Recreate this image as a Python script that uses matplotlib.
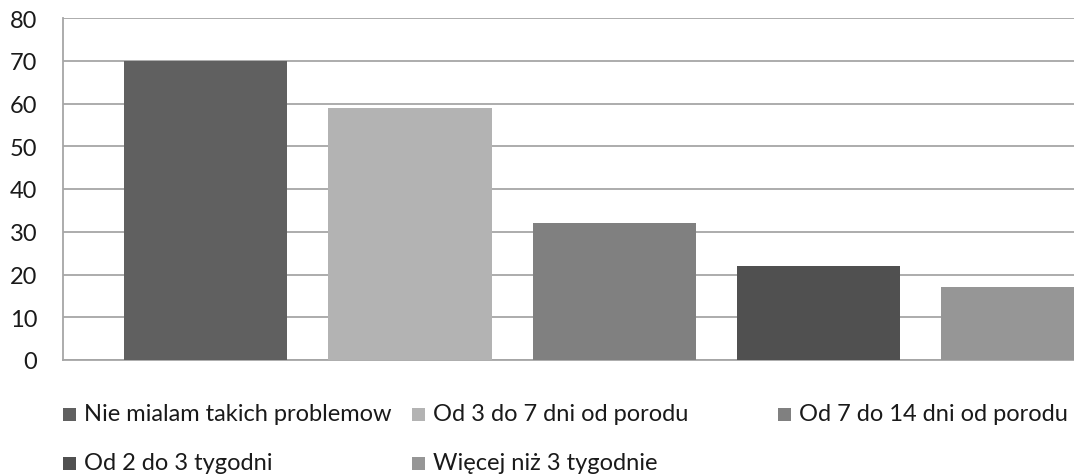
import matplotlib
matplotlib.use("Agg")
import matplotlib.pyplot as plt
from matplotlib.patches import Rectangle

categories = [
    "Nie mialam takich problemow",
    "Od 3 do 7 dni od porodu",
    "Od 7 do 14 dni od porodu",
    "Od 2 do 3 tygodni",
    "Więcej niż 3 tygodnie",
]
values = [70, 59, 32, 22, 17]
colors = ["#606060", "#b3b3b3", "#808080", "#505050", "#969696"]
y_ticks = [0, 10, 20, 30, 40, 50, 60, 70, 80]

W, H = 1074, 477
plt.rcParams["font.family"] = ["Lato", "DejaVu Sans"]
FS = 17

fig = plt.figure(figsize=(W / 100, H / 100), dpi=100)
ax = fig.add_axes([63 / W, (H - 361) / H, 1 - 63 / W, (361 - 19) / H])

x = list(range(len(values)))
ax.bar(x, values, width=0.8, color=colors, zorder=3)

ax.set_ylim(0, 80)
ax.set_xlim(-0.697, 4.249)
ax.set_yticks(y_ticks)
ax.set_xticks([])
ax.yaxis.grid(True, color="#a6a6a6", linewidth=1.3, zorder=0)
ax.set_axisbelow(True)
ax.tick_params(axis="y", length=0, pad=18.5, labelsize=FS, labelcolor="#1a1a1a")
for s in ["top", "right"]:
    ax.spines[s].set_visible(False)
for s in ["left", "bottom"]:
    ax.spines[s].set_color("#a6a6a6")
    ax.spines[s].set_linewidth(1.3)

# legend laid out in rows of three equal-width slots
slots = [(63, 415), (412, 415), (778, 415), (63, 464), (412, 464)]
for (px, py), label, c in zip(slots, categories, colors):
    fig.patches.append(Rectangle((px / W, (H - py - 7) / H), 13 / W, 13 / H,
                                 transform=fig.transFigure, facecolor=c,
                                 edgecolor="none"))
    fig.text((px + 21) / W, (H - py) / H, label, fontsize=FS, color="#1a1a1a",
             va="center", ha="left")

fig.savefig("out.png", dpi=100)
